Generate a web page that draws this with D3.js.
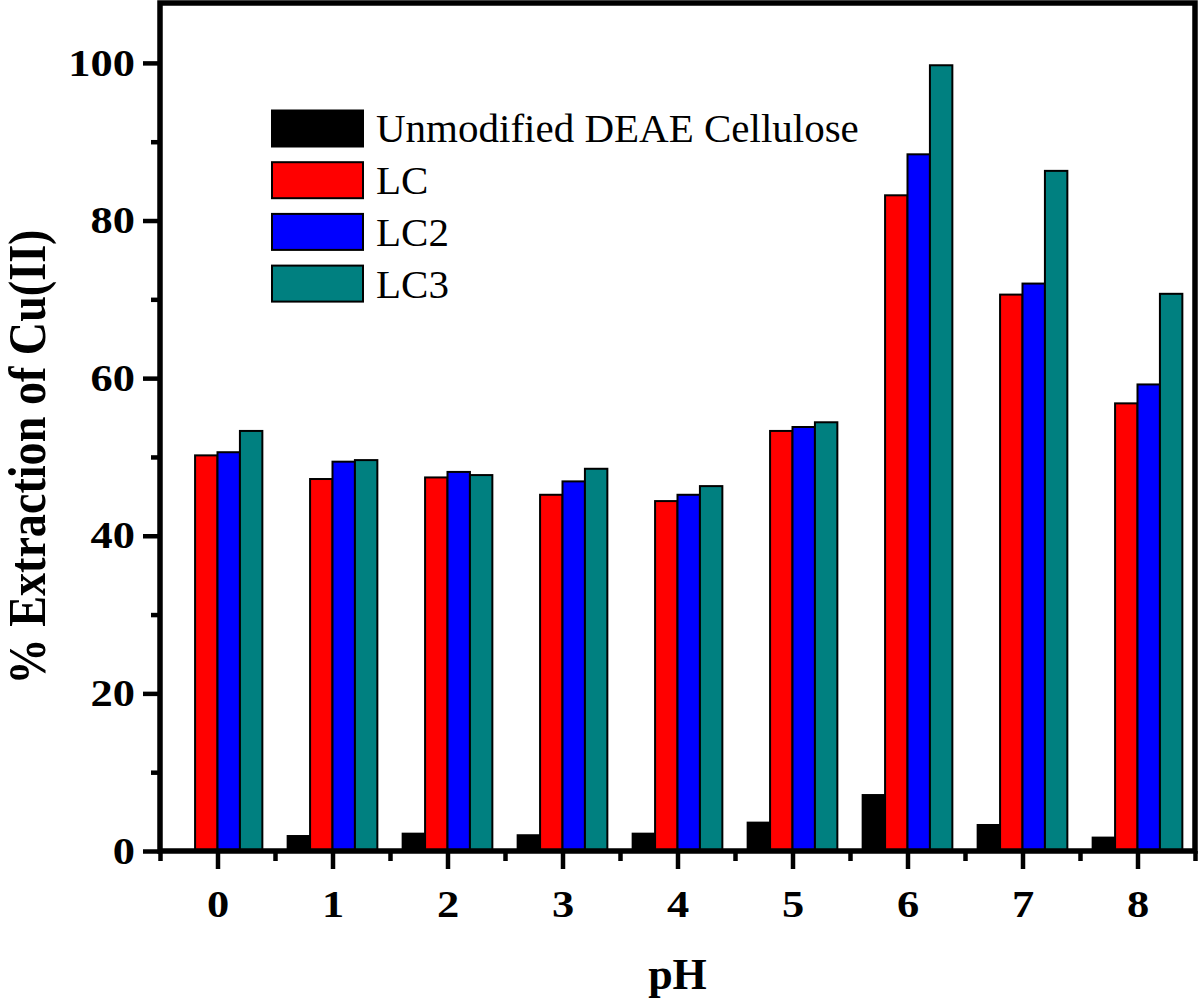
<!DOCTYPE html>
<html>
<head>
<meta charset="utf-8">
<script src="https://d3js.org/d3.v7.min.js"></script>
<style>
  body { margin: 0; background: #fff; }
  text { font-family: "Liberation Serif", "Times New Roman", serif; }
</style>
</head>
<body>
<div id="chart"></div>
<script>

// data
var phLevels = [0, 1, 2, 3, 4, 5, 6, 7, 8];
var seriesNames = ["Unmodified DEAE Cellulose", "LC", "LC2", "LC3"];
var seriesColors = ["#000000", "#ff0000", "#0000ff", "#008080"];
var unmodified = [0, 1.9, 2.2, 2.0, 2.2, 3.6, 7.1, 3.3, 1.7];
var lc  = [50.2, 47.2, 47.4, 45.2, 44.4, 53.3, 83.2, 70.6, 56.8];
var lc2 = [50.6, 49.4, 48.1, 46.9, 45.2, 53.8, 88.4, 72.0, 59.2];
var lc3 = [53.3, 49.6, 47.7, 48.5, 46.3, 54.4, 99.7, 86.3, 70.7];
var yTicks = [0, 20, 40, 60, 80, 100];
var yMinor = [10, 30, 50, 70, 90];

var allSeries = [unmodified, lc, lc2, lc3];

var width = 1200, height = 1003;
var margin = {top: 3, right: 5, bottom: 152, left: 160};

var svg = d3.select("#chart").append("svg")
    .attr("width", width)
    .attr("height", height);

var x = d3.scaleLinear()
    .domain([-0.5, 8.5])
    .range([margin.left, width - margin.right]);

var y = d3.scaleLinear()
    .domain([0, 107.6])
    .range([height - margin.bottom, margin.top]);

var step = x(1) - x(0);
var x1 = d3.scaleBand()
    .domain(seriesNames)
    .range([-step * 0.39, step * 0.39]);

// bars
var groups = svg.selectAll(".grp")
    .data(phLevels)
  .enter().append("g")
    .attr("class", "grp")
    .attr("transform", function(d) { return "translate(" + x(d) + ",0)"; });

groups.selectAll("rect")
    .data(function(d, i) {
      return allSeries.map(function(s, j) { return {name: seriesNames[j], color: seriesColors[j], value: s[i]}; });
    })
  .enter().filter(function(d) { return d.value > 0; }).append("rect")
    .attr("x", function(d) { return x1(d.name); })
    .attr("width", x1.bandwidth())
    .attr("y", function(d) { return y(d.value); })
    .attr("height", function(d) { return y(0) - y(d.value); })
    .style("fill", function(d) { return d.color; })
    .style("stroke", "#000")
    .style("stroke-width", 2);

// axes
var xAxis = d3.axisBottom(x).tickValues(phLevels).tickSize(18).tickPadding(21)
    .tickFormat(d3.format("d"));
var xMinor = d3.axisBottom(x).tickValues(d3.range(-0.5, 9, 1)).tickSize(10).tickFormat("");
var yAxis = d3.axisLeft(y).tickValues(yTicks).tickSize(17).tickPadding(8);
var yMinorAxis = d3.axisLeft(y).tickValues(yMinor).tickSize(9).tickFormat("");

function styleAxis(g) {
  g.select(".domain").remove();
  g.selectAll("line").style("stroke", "#000").style("stroke-width", 4.5);
  g.selectAll("text")
      .style("font-size", "38px")
      .style("font-weight", "bold")
      .style("fill", "#000")
      .attr("lengthAdjust", "spacingAndGlyphs")
      .attr("textLength", function() { return this.getComputedTextLength() * 1.17; });
}

svg.append("g")
    .attr("transform", "translate(0," + y(0) + ")")
    .call(xMinor).call(styleAxis);
svg.append("g")
    .attr("transform", "translate(0," + y(0) + ")")
    .call(xAxis).call(styleAxis);
svg.append("g")
    .attr("transform", "translate(" + x(-0.5) + ",0)")
    .call(yMinorAxis).call(styleAxis);
svg.append("g")
    .attr("transform", "translate(" + x(-0.5) + ",0)")
    .call(yAxis).call(styleAxis);

// frame
svg.append("rect")
    .attr("x", x(-0.5))
    .attr("y", y(107.6))
    .attr("width", x(8.5) - x(-0.5))
    .attr("height", y(0) - y(107.6))
    .style("fill", "none")
    .style("stroke", "#000")
    .style("stroke-width", 5.5);

// axis titles
svg.append("text")
    .attr("x", (x(-0.5) + x(8.5)) / 2)
    .attr("y", 989)
    .style("text-anchor", "middle")
    .style("font-size", "44px")
    .style("font-weight", "bold")
    .text("pH");

svg.append("text")
    .attr("transform", "translate(45,457) rotate(-90)")
    .style("text-anchor", "middle")
    .style("font-size", "52px")
    .style("font-weight", "bold")
    .attr("textLength", 455)
    .attr("lengthAdjust", "spacingAndGlyphs")
    .text("% Extraction of Cu(II)");

//Legend
var legend = svg.selectAll(".legend")
    .data(seriesNames)
  .enter().append("g")
    .attr("class", "legend")
    .attr("transform", function(d, i) { return "translate(272," + (128.5 + i * 51.7) + ")"; });

legend.append("rect")
    .attr("x", 0)
    .attr("y", -18)
    .attr("width", 91)
    .attr("height", 36)
    .style("fill", function(d, i) { return seriesColors[i]; })
    .style("stroke", "#000")
    .style("stroke-width", 2);

legend.append("text")
    .attr("x", 104)
    .attr("y", 0)
    .attr("dy", ".34em")
    .style("font-size", "41px")
    .text(function(d) { return d; });

</script>
</body>
</html>
